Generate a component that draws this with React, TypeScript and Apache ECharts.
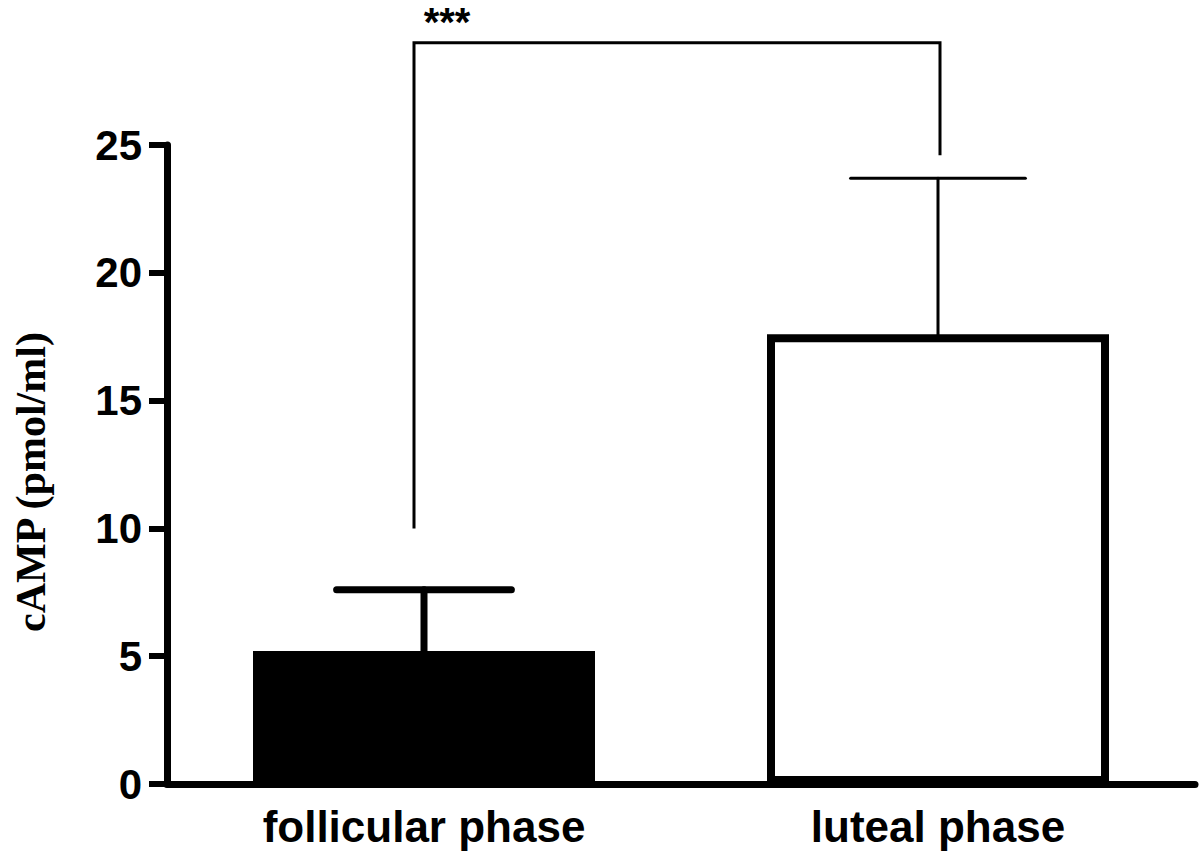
import React, { useEffect, useRef } from "react";
import * as echarts from "echarts";

const categories = ["follicular phase", "luteal phase"];
const means = [5.2, 17.6];
const sems = [2.4, 6.1];
const yTicks = { min: 0, max: 25, interval: 5 };
// significance bracket: start heights on each side and bracket level (in y units)
const bracketLeftStart = 10;
const bracketRightStart = 24.6;
const bracketLevel = 29;
const significance = "***";
const yTitle = "cAMP (pmol/ml)";

export default function App() {
  const ref = useRef<HTMLDivElement>(null);
  useEffect(() => {
    if (!ref.current) return;
    const chart = echarts.init(ref.current, null, { renderer: "svg" });
    const sans = "'Liberation Sans', Arial, sans-serif";
    const errData = means.map((m, i) => [i, m, sems[i]]);
    chart.setOption({
      animation: false,
      backgroundColor: "#ffffff",
      grid: { left: 167, right: 5, top: 145, bottom: 72 },
      graphic: [
        {
          type: "text",
          x: 31,
          y: 482,
          rotation: Math.PI / 2,
          style: {
            text: yTitle,
            align: "center",
            verticalAlign: "middle",
            fill: "#000",
            font: "bold 42px 'Liberation Serif', 'Times New Roman', serif",
          },
        },
      ],
      xAxis: {
        type: "category",
        data: categories,
        axisLine: { lineStyle: { color: "#000", width: 7 } },
        axisTick: { alignWithLabel: true, length: 18, lineStyle: { color: "#000", width: 6 } },
        axisLabel: { color: "#000", fontFamily: sans, fontWeight: "bold", fontSize: 44, margin: 20 },
      },
      yAxis: {
        type: "value",
        min: yTicks.min,
        max: yTicks.max,
        interval: yTicks.interval,
        splitLine: { show: false },
        axisLine: { show: true, lineStyle: { color: "#000", width: 7 } },
        axisTick: { show: true, length: 18, lineStyle: { color: "#000", width: 6 } },
        axisLabel: { color: "#000", fontFamily: sans, fontWeight: "bold", fontSize: 42, margin: 25 },
      },
      series: [
        {
          type: "bar",
          barWidth: 342,
          data: means.map((v, i) => ({
            value: v,
            itemStyle:
              i === 0
                ? { color: "#000", borderColor: "#000", borderWidth: 0 }
                : { color: "#fff", borderColor: "#000", borderWidth: 8 },
          })),
          z: 2,
        },
        {
          type: "custom",
          z: 5,
          data: errData,
          renderItem: (params: any, api: any) => {
            const x = api.value(0);
            const m = api.value(1);
            const e = api.value(2);
            const base = api.coord([x, m]);
            const top = api.coord([x, m + e]);
            const half = api.size([1, 0])[0] * 0.17;
            const lw = params.dataIndex === 0 ? 7 : 3;
            const style = { stroke: "#000", lineWidth: lw, lineCap: "round" };
            return {
              type: "group",
              children: [
                { type: "line", shape: { x1: top[0], y1: base[1], x2: top[0], y2: top[1] }, style },
                { type: "line", shape: { x1: top[0] - half, y1: top[1], x2: top[0] + half, y2: top[1] }, style },
              ],
            };
          },
        },
        {
          type: "custom",
          z: 5,
          clip: false,
          data: [[0, 1, bracketLeftStart, bracketRightStart, bracketLevel]],
          renderItem: (params: any, api: any) => {
            const p1 = api.coord([api.value(0), api.value(2)]);
            const p2 = api.coord([api.value(0), api.value(4)]);
            const p3 = api.coord([api.value(1), api.value(4)]);
            const p4 = api.coord([api.value(1), api.value(3)]);
            const lx = p1[0] - 10;
            const rx = p3[0] + 2;
            return {
              type: "group",
              children: [
                {
                  type: "polyline",
                  shape: { points: [[lx, p1[1]], [lx, p2[1]], [rx, p3[1]], [rx, p4[1]]] },
                  style: { stroke: "#000", lineWidth: 3, fill: null },
                },
                {
                  type: "text",
                  style: {
                    text: significance,
                    x: lx + 33,
                    y: p2[1] - 21,
                    align: "center",
                    verticalAlign: "middle",
                    fill: "#000",
                    font: "bold 40px 'Liberation Sans', Arial, sans-serif",
                  },
                },
              ],
            };
          },
        },
      ],
    });
    return () => chart.dispose();
  }, []);
  return <div ref={ref} style={{ position: "absolute", left: 0, top: 0, width: 1200, height: 856 }} />;
}
